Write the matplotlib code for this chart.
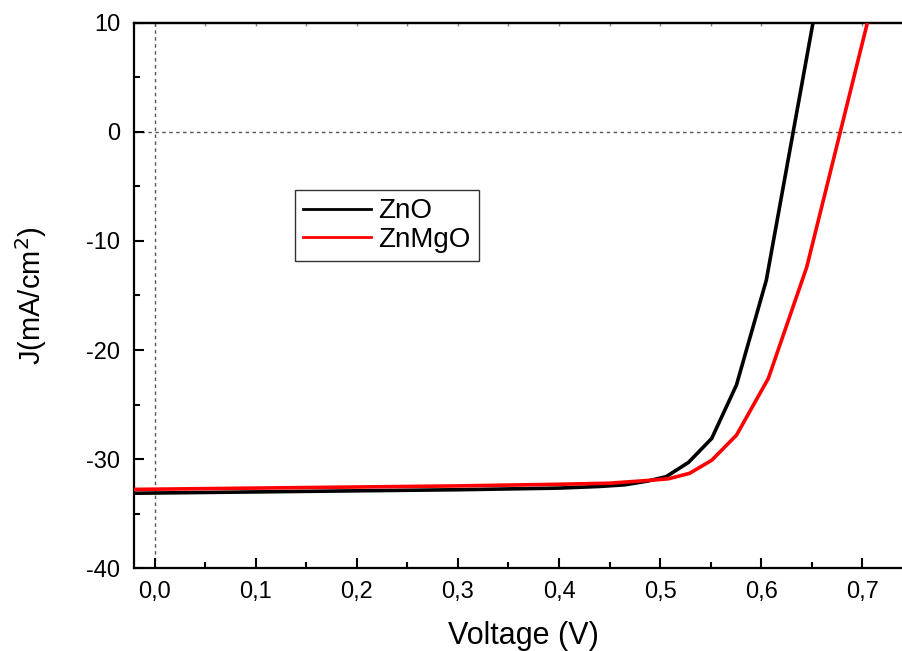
import matplotlib
matplotlib.use("Agg")
import matplotlib.pyplot as plt
from matplotlib.ticker import MultipleLocator, FuncFormatter, NullFormatter
from matplotlib.lines import Line2D

plt.rcParams['font.family'] = ['Liberation Sans', 'DejaVu Sans']

# Data
zno_v = [-0.02, 0.0, 0.1, 0.2, 0.3, 0.4, 0.44, 0.465, 0.488, 0.506, 0.528, 0.551, 0.5755, 0.605, 0.66]
zno_j = [-33.12, -33.1, -33.0, -32.9, -32.8, -32.65, -32.5, -32.35, -32.0, -31.6, -30.3, -28.1, -23.2, -13.6, 14.5]

znmgo_v = [-0.02, 0.0, 0.1, 0.2, 0.3, 0.4, 0.45, 0.488, 0.508, 0.529, 0.551, 0.5755, 0.607, 0.645, 0.72]
znmgo_j = [-32.77, -32.75, -32.65, -32.55, -32.45, -32.3, -32.2, -31.95, -31.8, -31.3, -30.1, -27.8, -22.6, -12.4, 15.6]

series_labels = ["ZnO", "ZnMgO"]
x_label = "Voltage (V)"
y_label = "J(mA/cm$^2$)"

fig = plt.figure(figsize=(9.03, 6.51), dpi=100)
ax = fig.add_axes([0.1488, 0.127, 0.8622, 0.8384])

ax.axvline(0, color='#555555', lw=1.0, ls=(0, (2.5, 2.5)), zorder=1)
ax.axhline(0, color='#555555', lw=1.0, ls=(0, (2.5, 2.5)), zorder=1)

ax.plot(zno_v, zno_j, color='black', lw=2.6, zorder=3)
ax.plot(znmgo_v, znmgo_j, color='#ff0000', lw=2.6, zorder=4)

ax.set_xlim(-0.02, 0.75)
ax.set_ylim(-40, 10)

ax.xaxis.set_major_locator(MultipleLocator(0.1))
ax.xaxis.set_minor_locator(MultipleLocator(0.05))
ax.yaxis.set_major_locator(MultipleLocator(10))
ax.yaxis.set_minor_locator(MultipleLocator(5))
ax.xaxis.set_major_formatter(FuncFormatter(lambda v, p: f"{v:.1f}".replace('.', ',').replace('-0,0', '0,0')))
ax.yaxis.set_major_formatter(FuncFormatter(lambda v, p: f"{v:.0f}"))

ax.tick_params(axis='both', which='major', direction='in', length=7.5, width=1.5, labelsize=17)
ax.tick_params(axis='both', which='minor', direction='in', length=4, width=1.5)
ax.tick_params(axis='x', which='major', pad=9)
ax.tick_params(axis='y', which='major', pad=10)

top = ax.secondary_xaxis('top')
top.xaxis.set_major_locator(MultipleLocator(0.05))
top.xaxis.set_major_formatter(NullFormatter())
top.tick_params(direction='in', length=2, width=1, color='#888888')
top.spines['top'].set_linewidth(1.6)

for s in ['left', 'bottom', 'top']:
    ax.spines[s].set_linewidth(1.6)
ax.spines['right'].set_visible(False)

ax.set_xlabel(x_label, fontsize=22, labelpad=13)
ax.set_ylabel(y_label, fontsize=21, labelpad=27)

handles = [Line2D([], [], color='black', lw=2.0), Line2D([], [], color='#ff0000', lw=2.0)]
leg = fig.legend(handles, series_labels, loc='upper left',
                 bbox_to_anchor=(295 / 903, 1 - 190 / 651),
                 fontsize=20, frameon=True, fancybox=False, handlelength=2.45,
                 handletextpad=0.25, borderpad=0.3, labelspacing=0.1, borderaxespad=0)
leg.get_frame().set_edgecolor('black')
leg.get_frame().set_linewidth(1.0)

fig.savefig("out.png", dpi=100)
